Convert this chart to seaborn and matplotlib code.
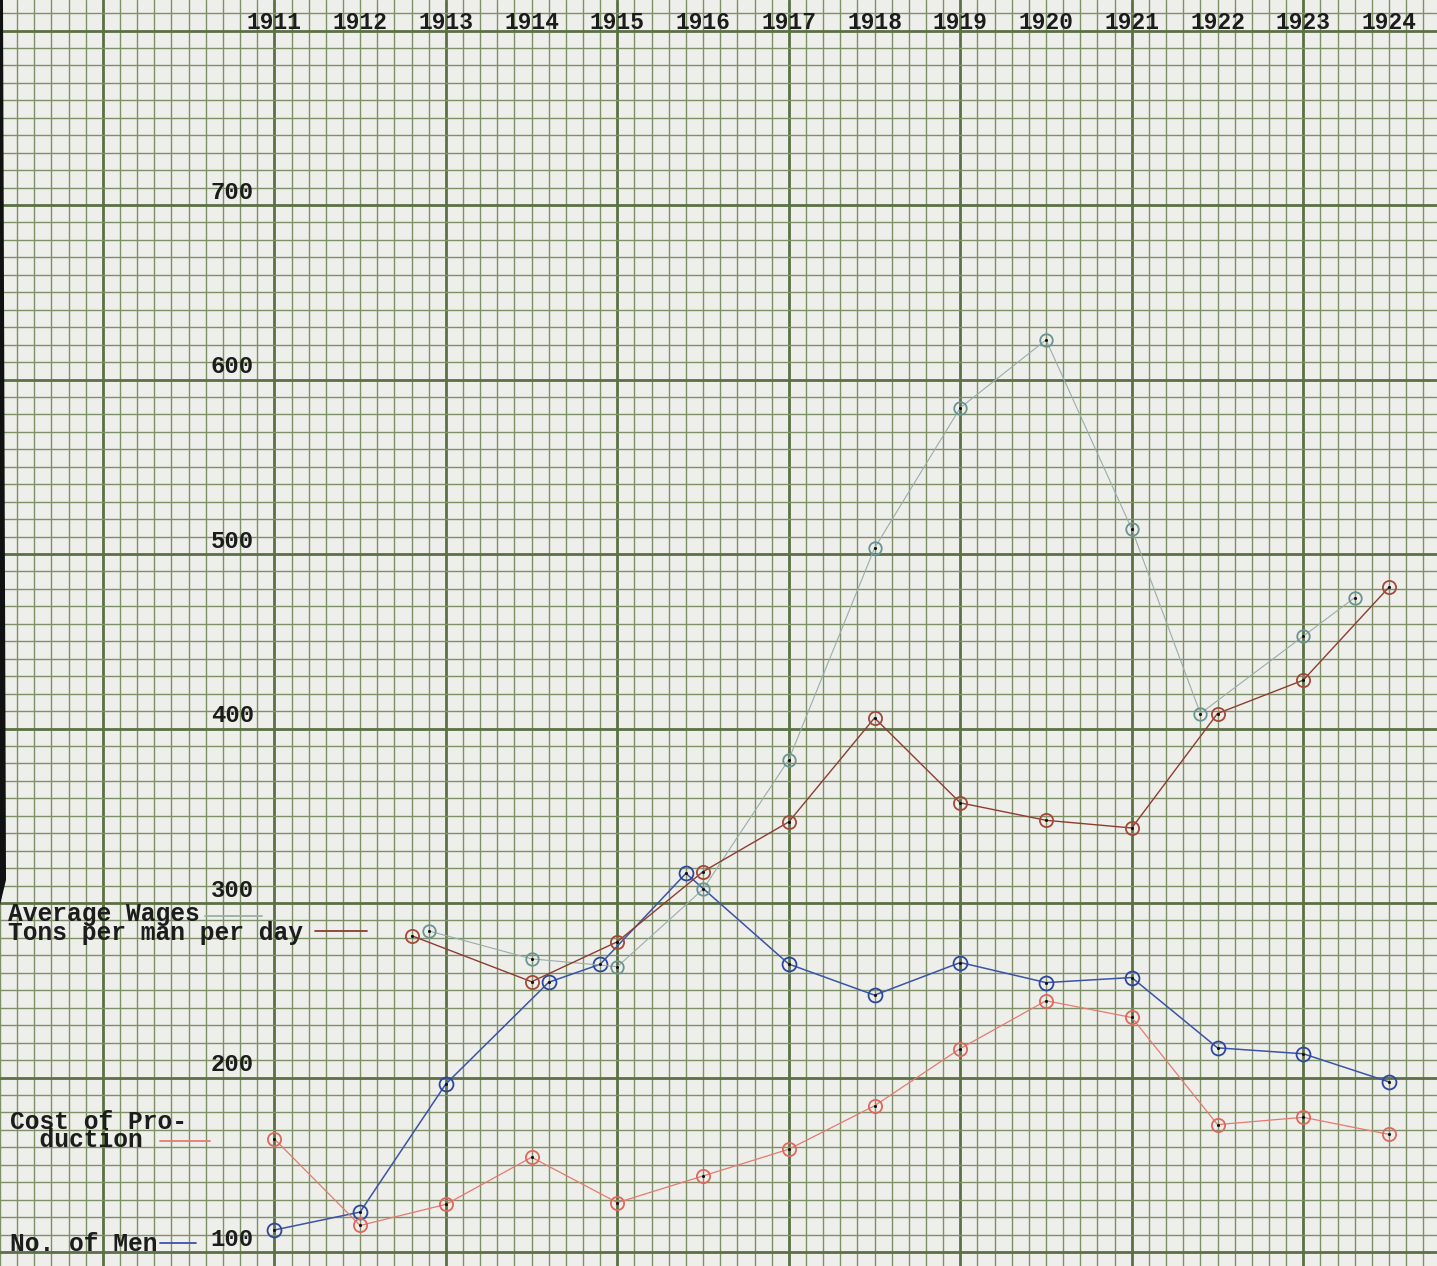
import numpy as np
import pandas as pd
import seaborn as sns
import matplotlib.pyplot as plt
from matplotlib.patches import Polygon

# values (x = year, hand plotted points slightly off the year line)
men_years = [1911, 1912, 1913, 1914.2, 1914.8, 1915.8, 1917, 1918, 1919, 1920, 1921, 1922, 1923, 1924]
men_values = [112.6, 122.9, 196.3, 254.6, 264.9, 317, 265, 247.2, 265.9, 254.4, 257.3, 217, 213.6, 197.5]

wages_years = [1912.8, 1914, 1915, 1916, 1917, 1918, 1919, 1920, 1921, 1921.8, 1923, 1923.6]
wages_values = [284, 268, 263.5, 307.9, 382.2, 503.4, 583.8, 622.7, 514.3, 408.6, 452.9, 475]

tons_years = [1912.6, 1914, 1915, 1916, 1917, 1918, 1919, 1920, 1921, 1922, 1923, 1924]
tons_values = [281.3, 254.9, 277.8, 318, 346.5, 406.1, 357.4, 347.4, 343, 408.6, 427.7, 481]

cost_years = [1911, 1912, 1913, 1914, 1915, 1916, 1917, 1918, 1919, 1920, 1921, 1922, 1923, 1924]
cost_values = [164.8, 115.2, 127.3, 154.3, 128.3, 143.6, 158.9, 183.8, 216.6, 244, 234.4, 173, 177.2, 167.4]

year_labels = [str(y) for y in range(1911, 1925)]
value_labels = [100, 200, 300, 400, 500, 600, 700]

sns.set_style("white")
plt.rcParams['font.family'] = ['Liberation Mono', 'DejaVu Sans Mono']

W, H = 1437, 1266
paper = '#eeeeea'
fig = plt.figure(figsize=(W / 100, H / 100), dpi=100)
fig.patch.set_facecolor(paper)
ax = fig.add_axes([0, 0, 1, 1])
ax.set_facecolor(paper)

ax.set_xlim(1907.89, 1924.56)
ax.set_ylim(91.98, 817.5)

# graph paper grid
ax.set_xticks(np.arange(1909, 1925, 2))
ax.set_xticks(np.round(np.arange(1907.8, 1924.6, 0.2), 1), minor=True)
ax.set_yticks(np.arange(100, 900, 100))
ax.set_yticks(np.arange(100, 820, 10), minor=True)
ax.grid(which='minor', color='#7f9068', linewidth=1.0)
ax.grid(which='major', color='#5c7045', linewidth=2.0)
ax.set_axisbelow(True)
ax.tick_params(which='both', length=0, labelbottom=False, labelleft=False)
for s in ax.spines.values():
    s.set_visible(False)

series = [
    (men_years, men_values, '#3b54a6', '#2d47a0', 1.1, 10),
    (wages_years, wages_values, '#98aeab', '#6a9492', 0.8, 9),
    (tons_years, tons_values, '#8c3d30', '#a24a3a', 1.0, 9.5),
    (cost_years, cost_values, '#e37b6f', '#e0675c', 0.9, 9.5),
]
for xs, ys, lc, mc, lw, ms in series:
    df = pd.DataFrame({'year': xs, 'value': ys})
    sns.lineplot(data=df, x='year', y='value', ax=ax, color=lc, linewidth=lw,
                 marker='o', markersize=ms, markerfacecolor='none',
                 markeredgecolor=mc, markeredgewidth=1.3, zorder=3)
    sns.scatterplot(data=df, x='year', y='value', ax=ax, color='#111111',
                    s=5, linewidth=0, zorder=4)
ax.set(xlabel=None, ylabel=None)


def px(x, y):
    # pixel position on the sheet -> axes fraction
    return x / W, 1 - y / H


ink = '#1c1c1c'
txt = dict(transform=ax.transAxes, color=ink, fontsize=17.7, fontweight='bold')

for i, lab in enumerate(year_labels):
    ax.text(1911 + i, 801, lab, ha='center', va='baseline', color=ink,
            fontsize=16.5, fontweight='bold')

for v in value_labels:
    ax.text(1910.76, v + 3.5, str(v), ha='right', va='baseline', color=ink,
            fontsize=17.2, fontweight='bold')

# typed key (typewriter half-line spacing)
ax.text(*px(8, 940), "Average Wages\nTons per man per day", ha='left', va='baseline',
        linespacing=0.74, **txt)
ax.text(*px(10, 1147), "Cost of Pro-\n  duction", ha='left', va='baseline',
        linespacing=0.7, **txt)
ax.text(*px(10, 1251), "No. of Men", ha='left', va='baseline', **txt)

keys = [((205, 262), 916, '#98aeab'), ((315, 367), 931, '#8c3d30'),
        ((160, 210), 1141, '#e37b6f'), ((160, 196), 1243, '#3b54a6')]
for (x0, x1), y, c in keys:
    ax.plot([x0 / W, x1 / W], [1 - y / H, 1 - y / H], transform=ax.transAxes,
            color=c, linewidth=1.3, zorder=3)

# dark scan edge on the left
ax.add_patch(Polygon([px(0, 0), px(3, 0), px(6, 880), px(0, 905)], closed=True,
                     transform=ax.transAxes, facecolor='#111111', edgecolor='none', zorder=5))

plt.savefig("out.png", dpi=100)
